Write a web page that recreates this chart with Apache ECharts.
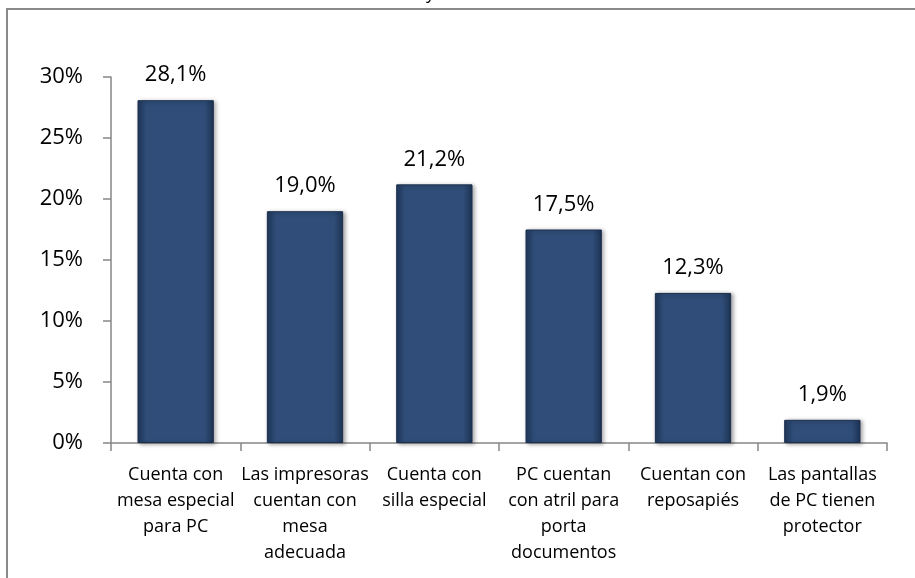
<!DOCTYPE html>
<html>
<head>
<meta charset="utf-8">
<script src="https://cdn.jsdelivr.net/npm/echarts@6/dist/echarts.min.js"></script>
<style>
  html, body { margin: 0; padding: 0; background: #fff; }
  #chart { width: 915px; height: 578px; }
</style>
</head>
<body>
<div id="chart"></div>
<script>
// categorías del eje X
var categorias = [
  'Cuenta con\nmesa especial\npara PC',
  'Las impresoras\ncuentan con\nmesa\nadecuada',
  'Cuenta con\nsilla especial',
  'PC cuentan\ncon atril para\nporta\ndocumentos',
  'Cuentan con\nreposapiés',
  'Las pantallas\nde PC tienen\nprotector'
]
// porcentajes
var valores = [28.1, 19.0, 21.2, 17.5, 12.3, 1.9]
// ticks eje Y
var ticksY = [0, 5, 10, 15, 20, 25, 30]

var fuente = '"Open Sans", "Noto Sans", sans-serif'
var chart = echarts.init(document.getElementById('chart'))

var option = {
  animation: false,
  backgroundColor: '#ffffff',
  grid: { left: 111, right: 28, top: 77, bottom: 135 },
  graphic: [
    // marco del gráfico (cortado por la derecha y abajo)
    {
      type: 'rect',
      shape: { x: 7, y: 9, width: 1200, height: 1200 },
      style: { fill: 'none', stroke: '#8a8a8a', lineWidth: 2 },
      silent: true
    },
    // resto del título cortado arriba
    {
      type: 'text',
      left: 426, top: -15,
      style: { text: 'y', font: '18px ' + fuente, fill: '#000' },
      silent: true
    }
  ],
  xAxis: {
    type: 'category',
    data: categorias,
    axisLine: { lineStyle: { color: '#868686', width: 1.5 } },
    axisTick: { show: true, length: 8, lineStyle: { color: '#868686', width: 1.5 } },
    axisLabel: {
      color: '#000',
      fontFamily: fuente,
      fontSize: 18,
      lineHeight: 26,
      margin: 19,
      interval: 0
    }
  },
  yAxis: {
    type: 'value',
    min: ticksY[0],
    max: ticksY[ticksY.length - 1],
    interval: 5,
    axisLine: { show: true, lineStyle: { color: '#868686', width: 1.5 } },
    axisTick: { show: true, length: 8, lineStyle: { color: '#868686', width: 1.5 } },
    splitLine: { show: false },
    axisLabel: {
      color: '#000',
      fontFamily: fuente,
      fontSize: 22,
      margin: 28,
      formatter: '{value}%'
    }
  },
  series: [
    {
      type: 'bar',
      data: valores,
      barWidth: '59%',
      itemStyle: {
        color: new echarts.graphic.LinearGradient(0, 0, 1, 0, [
          { offset: 0, color: '#213a5e' },
          { offset: 0.12, color: '#2f4d78' },
          { offset: 0.88, color: '#2f4d78' },
          { offset: 1, color: '#1d3353' }
        ]),
        borderColor: '#1b2f4e',
        borderWidth: 1,
        shadowColor: 'rgba(0,0,0,0.35)',
        shadowBlur: 4,
        shadowOffsetX: 2,
        shadowOffsetY: 1
      },
      label: {
        show: true,
        position: 'top',
        distance: 14,
        color: '#000',
        fontFamily: fuente,
        fontSize: 22,
        formatter: function (p) {
          return p.value.toFixed(1).replace('.', ',') + '%'
        }
      }
    }
  ]
}
chart.setOption(option)
</script>
</body>
</html>
